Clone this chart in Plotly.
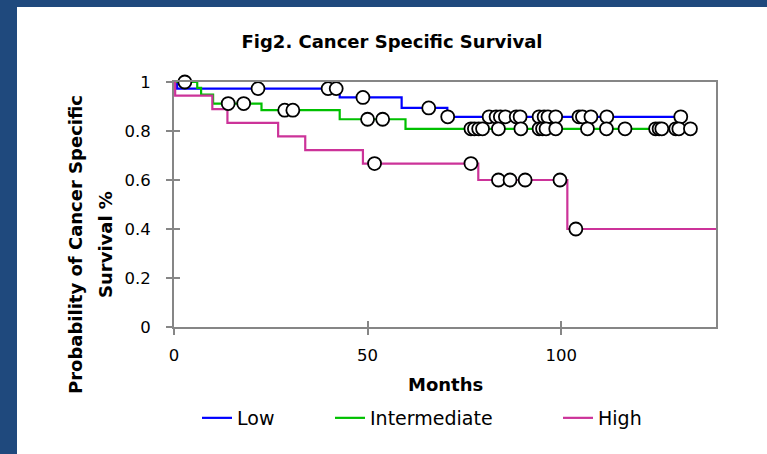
import numpy as np
import plotly.graph_objects as go

# ---- Kaplan-Meier step data (months, survival probability) ----
low_times = [0, 0.8, 42.8, 58.8, 70.6, 130.9]
low_surv = [1.0, 0.973, 0.937, 0.894, 0.858, 0.858]
low_censor = [21.7, 39.8, 41.9, 48.8, 65.8, 70.7, 81.4, 83.2, 84.3, 85.6, 88.4,
              89.4, 94.3, 95.6, 96.6, 98.6, 104.6, 105.5, 107.7, 111.8, 130.9]

int_times = [0, 6.0, 7.0, 10.1, 22.6, 42.8, 59.8, 133.4]
int_surv = [1.0, 0.976, 0.949, 0.912, 0.885, 0.848, 0.809, 0.809]
int_censor = [2.8, 14.0, 18.0, 28.6, 30.7, 50.0, 53.9, 76.7, 77.6, 78.7, 79.7,
              83.8, 89.6, 94.3, 95.2, 96.1, 98.6, 106.8, 111.7, 116.5, 124.4,
              125.3, 126.0, 129.6, 130.4, 133.4]

high_times = [0, 0.3, 9.9, 13.8, 26.9, 33.9, 48.8, 78.6, 101.6, 140]
high_surv = [1.0, 0.944, 0.889, 0.833, 0.778, 0.722, 0.667, 0.60, 0.40, 0.40]
high_censor = [51.8, 76.7, 83.8, 86.8, 90.7, 99.7, 103.8]

series_names = ["Low", "Intermediate", "High"]
series_colors = ["#0000FF", "#00C000", "#CC3399"]

x_ticks = [0, 50, 100]
y_ticks = [0, 0.2, 0.4, 0.6, 0.8, 1.0]
y_ticktext = ["0", "0.2", "0.4", "0.6", "0.8", "1"]
x_range = [0, 140]

# ---- figure geometry (pixels) ----
W, H = 767, 454
ML, MR, MT, MB = 174, 51, 82, 127
PW, PH = W - ML - MR, H - MT - MB


def px_x(px):
    return (px - ML) / PW


def px_y(py):
    return (H - MB - py) / PH


def km_value(times, surv, t):
    idx = np.searchsorted(np.asarray(times), np.asarray(t), side="right") - 1
    return np.asarray(surv)[idx]


AXIS_GREY = "#868686"
TICK_FONT = dict(family="Tahoma, DejaVu Sans, sans-serif", size=16.5, color="#000000")
TITLE_FONT = dict(family="Comic Sans MS, DejaVu Sans, sans-serif", size=18, color="#000000")
LEGEND_FONT = dict(family="Comic Sans MS, DejaVu Sans, sans-serif", size=19, color="#000000")

fig = go.Figure()

curves = [(low_times, low_surv), (int_times, int_surv), (high_times, high_surv)]
censors = [low_censor, int_censor, high_censor]
legend_ids = ["legend", "legend2", "legend3"]

for (t, s), name, color, lg in zip(curves, series_names, series_colors, legend_ids):
    fig.add_trace(go.Scatter(
        x=t, y=s, mode="lines", name=name, line=dict(color=color, width=2.2, shape="hv"),
        legend=lg, cliponaxis=False, hoverinfo="skip"))

for (t, s), cens, name in zip(curves, censors, series_names):
    fig.add_trace(go.Scatter(
        x=cens, y=km_value(t, s, cens), mode="markers", name=name + " censored",
        showlegend=False, cliponaxis=False,
        marker=dict(symbol="circle", size=13, color="#FFFFFF",
                    line=dict(color="#000000", width=1.8))))

# empty trace that keeps the overlay axes (inner tick halves) active
fig.add_trace(go.Scatter(x=[None], y=[None], xaxis="x2", yaxis="y2", mode="lines",
                         showlegend=False, hoverinfo="skip"))

common_axis = dict(showgrid=False, zeroline=False)

fig.update_layout(
    width=W, height=H,
    margin=dict(l=ML, r=MR, t=MT, b=MB, pad=0),
    paper_bgcolor="#FFFFFF", plot_bgcolor="#FFFFFF",
    title=dict(text="<b>Fig2. Cancer Specific Survival</b>", font=TITLE_FONT,
               x=392 / W, xanchor="center", y=1 - 42 / H, yanchor="middle"),
    xaxis=dict(range=x_range, tickvals=x_ticks, ticks="outside", ticklen=6, tickwidth=1.5,
               tickcolor=AXIS_GREY, showline=True, linecolor=AXIS_GREY, linewidth=2,
               mirror=True, tickfont=TICK_FONT, ticklabelstandoff=6, **common_axis),
    yaxis=dict(range=[0, 1], tickvals=y_ticks, ticktext=y_ticktext, ticks="outside",
               ticklen=6, tickwidth=1.5, tickcolor=AXIS_GREY, showline=True,
               linecolor=AXIS_GREY, linewidth=2, mirror=True, tickfont=TICK_FONT,
               ticklabelstandoff=12, **common_axis),
    # overlay axes supply the inner half of the crossing tick marks
    xaxis2=dict(range=x_range, tickvals=x_ticks, ticks="inside", ticklen=6, tickwidth=1.5,
                tickcolor=AXIS_GREY, showticklabels=False, showline=False,
                overlaying="x", anchor="y", side="bottom", **common_axis),
    yaxis2=dict(range=[0, 1], tickvals=y_ticks, ticks="inside", ticklen=6, tickwidth=1.5,
                tickcolor=AXIS_GREY, showticklabels=False, showline=False,
                overlaying="y", anchor="x", side="left", **common_axis),
    showlegend=True,
)

# one legend per series so each entry sits at its own spot along the bottom
for lg, px in zip(legend_ids, [197, 330, 558]):
    fig.update_layout({lg: dict(orientation="h", x=px_x(px), xanchor="left",
                                y=px_y(418), yanchor="middle", font=LEGEND_FONT,
                                bgcolor="rgba(0,0,0,0)", borderwidth=0,
                                itemclick=False, itemdoubleclick=False)})

# axis titles
fig.add_annotation(text="<b>Months</b>", x=px_x(445), y=px_y(384), xref="paper", yref="paper",
                   showarrow=False, font=TITLE_FONT, xanchor="center", yanchor="middle")
fig.add_annotation(text="<b>Probability of Cancer Specific</b>", x=px_x(75), y=px_y(245),
                   xref="paper", yref="paper", textangle=-90, showarrow=False,
                   font=TITLE_FONT, xanchor="center", yanchor="middle")
fig.add_annotation(text="<b>Survival %</b>", x=px_x(105), y=px_y(245),
                   xref="paper", yref="paper", textangle=-90, showarrow=False,
                   font=TITLE_FONT, xanchor="center", yanchor="middle")

# dark blue slide frame along the top and left edges
FRAME = "#1F497D"
fig.add_shape(type="rect", xref="paper", yref="paper", x0=px_x(0), x1=px_x(W),
              y0=px_y(7), y1=px_y(0), fillcolor=FRAME, line_width=0, layer="below")
fig.add_shape(type="rect", xref="paper", yref="paper", x0=px_x(0), x1=px_x(17),
              y0=px_y(H), y1=px_y(0), fillcolor=FRAME, line_width=0, layer="below")

fig.write_html("out.html")
